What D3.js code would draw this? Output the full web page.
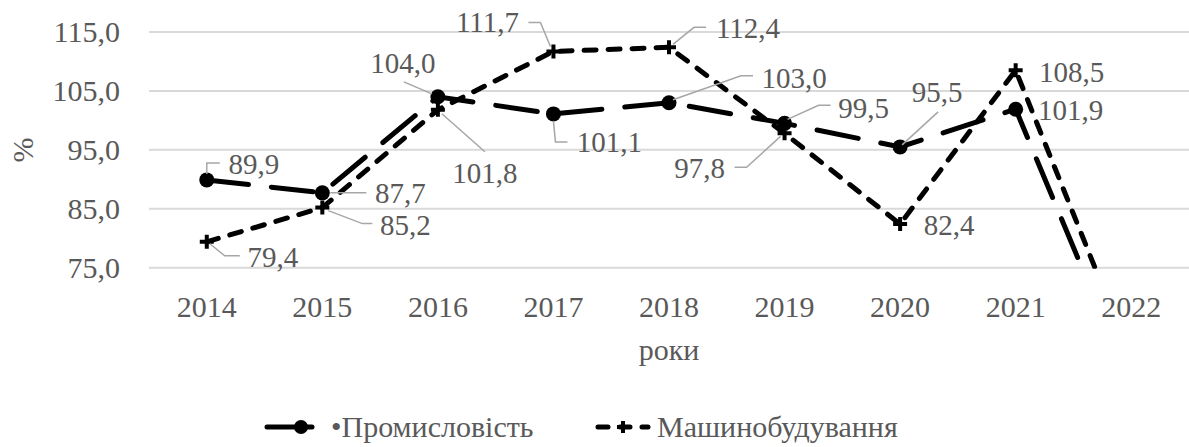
<!DOCTYPE html>
<html>
<head>
<meta charset="utf-8">
<script src="https://cdn.jsdelivr.net/npm/d3@7"></script>
<style>
  body { margin: 0; background: #fff; }
</style>
</head>
<body>
<div id="chart"></div>
<script>
var width = 1189;
var height = 447;

// data
const years = ["2014", "2015", "2016", "2017", "2018", "2019", "2020", "2021", "2022"];
const industry = [89.9, 87.7, 104.0, 101.1, 103.0, 99.5, 95.5, 101.9, 55.0];
const machinery = [79.4, 85.2, 101.8, 111.7, 112.4, 97.8, 82.4, 108.5, 59.7];
const yTicks = [75, 85, 95, 105, 115];
const seriesNames = ["Промисловість", "Машинобудування"];

// label layout: text offset from point, leader polyline (relative to point) or null
const industryLabels = [
  { dx: 47, dy: -16, leader: [[0, -6], [0, -17], [13, -17]] },
  { dx: 78, dy: 0, leader: [[8, 0], [44, 0]] },
  { dx: -35, dy: -34, leader: [[-6, -3], [-34, -15]] },
  { dx: 56, dy: 28, leader: [[0, 7], [2, 28], [14, 28]] },
  { dx: 125, dy: -25, leader: [[4, -3], [72, -27], [84, -27]] },
  { dx: 79, dy: -15, leader: [[3, -4], [34, -18], [46, -18]] },
  { dx: 37, dy: -55, leader: [[2, -2], [38, -35]] },
  { dx: 55, dy: 1, leader: null },
  null
];
const machineryLabels = [
  { dx: 66, dy: 15, leader: [[3, 2], [18, 14], [33, 14]] },
  { dx: 83, dy: 17, leader: [[6, 3], [40, 16], [50, 16]] },
  { dx: 47, dy: 63, leader: [[4, 4], [47, 42]] },
  { dx: -66, dy: -29, leader: [[-3, -5], [-13, -29], [-25, -29]] },
  { dx: 79, dy: -19, leader: [[4, -3], [25, -20], [37, -20]] },
  { dx: -85, dy: 35, leader: [[-4, 3], [-38, 34], [-50, 34]] },
  { dx: 49, dy: 1, leader: null },
  { dx: 56, dy: 2, leader: null },
  null
];

var margin = { left: 149, right: 0, top: 32 };
var plotBottom = 267.7;

var svg = d3.select("#chart")
  .append("svg")
  .attr("width", width)
  .attr("height", height);

// every text gets the same font + colour
function txt(sel, size) {
  sel.style("font-family", "'Tinos', 'FreeSerif', 'Liberation Serif'")
    .style("font-size", size + "px")
    .style("fill", "#595959");
}

var x = d3.scalePoint()
  .domain(years)
  .range([margin.left, width - margin.right])
  .padding(0.5);

var y = d3.scaleLinear()
  .domain([75, 115])
  .range([plotBottom, margin.top]);

var fmt = d => d3.format(".1f")(d).replace(".", ",");

// gridlines
svg.append("g")
  .selectAll("line")
  .data(yTicks)
  .enter().append("line")
  .attr("x1", margin.left)
  .attr("x2", width - margin.right)
  .attr("y1", d => y(d))
  .attr("y2", d => y(d))
  .attr("stroke", "#d9d9d9")
  .attr("stroke-width", 2);

// y tick labels
svg.append("g")
  .selectAll("text")
  .data(yTicks)
  .enter().append("text")
  .attr("x", 120)
  .attr("y", d => y(d) + 10)
  .attr("text-anchor", "end")
  .call(txt, 30)
  .text(fmt);

// x tick labels
svg.append("g")
  .selectAll("text")
  .data(years)
  .enter().append("text")
  .attr("x", d => x(d))
  .attr("y", 317)
  .attr("text-anchor", "middle")
  .call(txt, 30)
  .text(d => d);

// axis titles
svg.append("text")
  .attr("x", (margin.left + width - margin.right) / 2)
  .attr("y", 360)
  .attr("text-anchor", "middle")
  .call(txt, 30)
  .text("роки");

svg.append("text")
  .attr("transform", "translate(33,150) rotate(-90)")
  .attr("text-anchor", "middle")
  .call(txt, 30)
  .text("%");

// clip to plot area
svg.append("clipPath")
  .attr("id", "plotclip")
  .append("rect")
  .attr("x", margin.left)
  .attr("y", 0)
  .attr("width", width - margin.left)
  .attr("height", plotBottom + 1);

var line = d3.line()
  .x((d, i) => x(years[i]))
  .y(d => y(d));

var plot = svg.append("g").attr("clip-path", "url(#plotclip)");

function crossPath(s) {
  return "M" + (-s) + ",0H" + s + "M0," + (-s) + "V" + s;
}

// industry series
plot.append("path")
  .datum(industry)
  .attr("d", line)
  .attr("fill", "none")
  .attr("stroke", "#000")
  .attr("stroke-width", 5)
  .attr("stroke-linecap", "round")
  .attr("stroke-dasharray", "42,23");

plot.selectAll(".ind-marker")
  .data(industry)
  .enter().append("circle")
  .attr("class", "ind-marker")
  .attr("cx", (d, i) => x(years[i]))
  .attr("cy", d => y(d))
  .attr("r", 7.5)
  .attr("fill", "#000");

// machinery series
plot.append("path")
  .datum(machinery)
  .attr("d", line)
  .attr("fill", "none")
  .attr("stroke", "#000")
  .attr("stroke-width", 5)
  .attr("stroke-linecap", "round")
  .attr("stroke-dasharray", "12,12");

plot.selectAll(".mach-marker")
  .data(machinery)
  .enter().append("path")
  .attr("class", "mach-marker")
  .attr("transform", (d, i) => "translate(" + x(years[i]) + "," + y(d) + ")")
  .attr("d", crossPath(7))
  .attr("stroke", "#000")
  .attr("stroke-width", 4)
  .attr("fill", "none");

// data labels
function drawLabels(values, layout) {
  var g = svg.append("g");
  values.forEach((v, i) => {
    var lab = layout[i];
    if (!lab || v < y.domain()[0]) return;
    var px = x(years[i]), py = y(v);
    if (lab.leader) {
      g.append("polyline")
        .attr("points", lab.leader.map(p => (px + p[0]) + "," + (py + p[1])).join(" "))
        .attr("fill", "none")
        .attr("stroke", "#a6a6a6")
        .attr("stroke-width", 1.5);
    }
    g.append("text")
      .attr("x", px + lab.dx)
      .attr("y", py + lab.dy + 10)
      .attr("text-anchor", "middle")
      .call(txt, 29)
      .text(fmt(v));
  });
}
drawLabels(industry, industryLabels);
drawLabels(machinery, machineryLabels);

// legend
var legend = svg.append("g").attr("transform", "translate(0,427)");

legend.append("line")
  .attr("x1", 267).attr("x2", 312)
  .attr("stroke", "#000").attr("stroke-width", 5)
  .attr("stroke-linecap", "round");
legend.append("circle")
  .attr("cx", 301).attr("cy", 0).attr("r", 7)
  .attr("fill", "#000");
legend.append("text")
  .attr("x", 331).attr("y", 10)
  .call(txt, 30)
  .text("•" + seriesNames[0]);

legend.append("line")
  .attr("x1", 598).attr("x2", 648)
  .attr("stroke", "#000").attr("stroke-width", 5)
  .attr("stroke-linecap", "round")
  .attr("stroke-dasharray", "10,12");
legend.append("path")
  .attr("transform", "translate(623,0)")
  .attr("d", crossPath(6))
  .attr("stroke", "#000").attr("stroke-width", 4);
legend.append("text")
  .attr("x", 657).attr("y", 10)
  .call(txt, 30)
  .text(seriesNames[1]);
</script>
</body>
</html>
